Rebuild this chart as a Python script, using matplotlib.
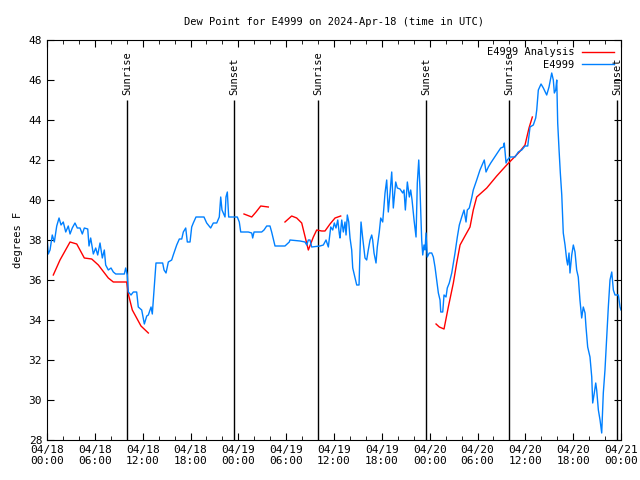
import numpy as np
import pandas as pd
import matplotlib
matplotlib.use('Agg')
import matplotlib.pyplot as plt
import matplotlib.dates as mdates

# hours since 2024-04-18 00:00 UTC, dew point in degrees F
obs_hours = [0.0, 0.16, 0.38, 0.66, 0.92, 1.22, 1.51, 1.76, 2.04, 2.35, 2.67, 2.89, 3.17, 3.51, 3.80, 4.14,
             4.43, 4.68, 5.11, 5.27, 5.48, 5.81, 6.11, 6.36, 6.65, 6.94, 7.19, 7.36, 7.69, 8.03, 8.32, 8.62,
             9.70, 9.87, 10.07, 10.20, 10.54, 10.83, 11.25, 11.45, 11.88, 12.21, 12.51, 12.71, 13.05, 13.21,
             13.46, 13.67, 14.51, 14.68, 14.93, 15.22, 15.64, 15.84, 16.06, 16.27, 16.60, 16.90, 17.10, 17.40,
             17.60, 17.94, 18.15, 18.35, 18.69, 19.69, 20.03, 20.53, 20.86, 21.29, 21.61, 21.79, 21.95, 22.33,
             22.45, 22.62, 22.79, 23.87, 24.12, 24.30, 25.25, 25.68, 25.80, 25.97, 26.93, 27.22, 27.56, 27.97,
             28.18, 28.60, 29.85, 30.39, 30.48, 31.74, 32.36, 32.58, 32.78, 32.99, 33.20, 34.24, 34.66, 35.00,
             35.29, 35.59, 35.84, 36.04, 36.25, 36.47, 36.67, 36.75, 36.97, 37.17, 37.38, 37.51, 37.67, 37.85,
             38.01, 38.22, 38.35, 38.64, 38.85, 39.14, 39.26, 39.39, 39.60, 39.89, 40.10, 40.30, 40.52, 40.73,
             40.85, 41.02, 41.27, 41.43, 41.68, 41.86, 42.11, 42.40, 42.61, 42.81, 43.03, 43.24, 43.44, 43.74,
             43.94, 44.28, 44.62, 44.78, 44.95, 45.20, 45.45, 45.62, 45.79, 46.04, 46.29, 46.45, 46.63, 46.79,
             47.00, 47.13, 47.29, 47.42, 47.54, 47.70, 47.95, 48.26, 48.46, 48.67, 48.88, 49.09, 49.30, 49.39,
             49.64, 49.80, 50.05, 50.21, 50.46, 50.77, 50.97, 51.18, 51.47, 51.72, 52.02, 52.31, 52.56, 52.72,
             52.97, 53.27, 53.47, 53.90, 54.31, 54.73, 54.85, 55.07, 55.36, 55.66, 56.07, 56.49, 56.91, 57.24,
             57.36, 57.58, 57.74, 58.08, 58.71, 59.12, 59.55, 59.96, 60.30, 60.59, 61.00, 61.30, 61.43, 61.63,
             61.97, 62.26, 62.68, 62.97, 63.31, 63.51, 63.64, 63.81, 63.94, 64.06, 64.23, 64.39, 64.57, 64.76,
             64.98, 65.19, 65.31, 65.48, 65.60, 65.82, 66.02, 66.23, 66.44, 66.64, 66.85, 67.07, 67.27, 67.49,
             67.61, 67.82, 68.11, 68.33, 68.45, 68.65, 68.83, 68.95, 69.16, 69.37, 69.58, 69.78, 69.99, 70.21,
             70.41, 70.62, 70.84, 71.04, 71.25, 71.67, 71.88, 72.0]
obs_dewpt = [38.2, 37.3, 37.5, 38.25, 37.9, 38.7, 39.1, 38.75, 38.9, 38.4, 38.7, 38.3, 38.6, 38.85, 38.6, 38.6,
             38.3, 38.6, 38.55, 37.7, 38.1, 37.3, 37.6, 37.25, 37.85, 37.1, 37.5, 36.75, 36.5, 36.6, 36.4, 36.3,
             36.3, 36.6, 36.25, 35.4, 35.25, 35.4, 35.4, 34.65, 34.5, 33.8, 34.2, 34.25, 34.65, 34.3,
             35.65, 36.85, 36.85, 36.5, 36.35, 36.9, 37.0, 37.25, 37.5, 37.75, 38.05, 38.05, 38.4, 38.6,
             37.9, 37.9, 38.65, 38.85, 39.15, 39.15, 38.85, 38.6, 38.85, 38.85, 39.15, 40.15, 39.5, 39.15,
             40.15, 40.4, 39.15, 39.15, 38.9, 38.4, 38.4, 38.35, 38.1, 38.4, 38.4, 38.5, 38.7, 38.7,
             38.4, 37.7, 37.7, 37.9, 38.0, 37.95, 37.9, 37.75, 38.0, 38.0, 37.65, 37.7, 37.75, 38.0,
             37.65, 38.65, 38.5, 38.85, 38.6, 39.0, 38.3, 38.1, 39.0, 38.4, 38.9, 38.25, 39.25, 38.9,
             38.1, 37.5, 36.6, 36.1, 35.75, 35.75, 37.4, 38.9, 38.1, 37.1, 37.0, 37.5, 38.0, 38.25,
             38.0, 37.35, 36.85, 37.65, 38.4, 39.1, 38.9, 40.35, 41.0, 39.4, 40.35, 41.4, 39.6, 40.9,
             40.6, 40.55, 40.35, 40.5, 39.5, 40.9, 40.15, 40.5, 40.0, 39.0, 38.15, 40.85, 42.0, 40.5,
             38.0, 37.25, 37.75, 37.5, 38.35, 37.15, 37.35, 37.35, 37.15, 36.65, 36.0, 35.35, 35.0, 34.4,
             34.4, 35.25, 35.15, 35.6, 35.85, 36.35, 36.85, 37.35, 38.15, 38.75, 39.15, 39.5, 38.9, 39.5,
             39.6, 40.1, 40.5, 41.0, 41.5, 41.9, 42.0, 41.4, 41.65, 41.85, 42.1, 42.35, 42.6, 42.65,
             42.85, 41.85, 42.0, 42.15, 42.15, 42.4, 42.5, 42.7, 42.7, 43.65, 43.75, 44.1, 44.5, 45.5,
             45.8, 45.6, 45.25, 45.65, 46.35, 46.0, 45.35, 45.5, 46.0, 43.85, 42.5, 41.35, 40.25, 38.35,
             37.75, 37.0, 36.75, 37.35, 36.35, 37.25, 37.75, 37.4, 36.5, 36.15, 35.0, 34.1, 34.65, 34.35,
             33.65, 32.65, 32.15, 31.15, 29.85, 30.35, 30.85, 30.5, 29.5, 29.0, 28.35, 30.35, 31.5, 33.15,
             34.65, 36.0, 36.4, 35.5, 35.25, 35.25, 34.65, 34.5]

# analysis series, NaN marks gaps between segments
ana_hours = [0.79, 1.63, 2.89, 3.73, 4.68, 5.61, 6.44, 7.69, 8.32, 10.0, 10.2, 10.7, 11.79, 12.71, 12.8,
             24.71, 25.68, 26.22, 26.81, 27.76, 27.8,
             29.85, 30.69, 31.32, 31.95, 32.78, 33.41, 33.83, 34.46, 34.87, 35.50, 36.13, 36.84, 36.9,
             48.8, 49.21, 49.80, 50.34, 50.97, 51.39, 51.81, 52.43, 53.06, 53.47, 53.90, 55.16, 56.41,
             57.66, 59.25, 59.96, 60.46, 60.88]
ana_dewpt = [36.25, 37.0, 37.9, 37.8, 37.1, 37.05, 36.75, 36.1, 35.9, 35.9, 35.3, 34.5, 33.7, 33.35, np.nan,
             39.3, 39.15, 39.4, 39.7, 39.65, np.nan,
             38.9, 39.2, 39.1, 38.85, 37.5, 38.15, 38.5, 38.45, 38.45, 38.8, 39.1, 39.2, np.nan,
             33.8, 33.65, 33.55, 34.65, 35.85, 36.85, 37.75, 38.2, 38.65, 39.5, 40.15, 40.6, 41.2,
             41.75, 42.4, 42.75, 43.6, 44.15]

sun_hours = [10.04, 23.46, 34.0, 47.55, 58.0, 71.5]
sun_labels = ['Sunrise', 'Sunset', 'Sunrise', 'Sunset', 'Sunrise', 'Sunset']

start = pd.Timestamp('2024-04-18 00:00')
obs_t = start + pd.to_timedelta(obs_hours, unit='h')
ana_t = start + pd.to_timedelta(ana_hours, unit='h')
sun_t = start + pd.to_timedelta(sun_hours, unit='h')

plt.rcParams['font.family'] = 'DejaVu Sans Mono'
plt.rcParams['font.size'] = 7.5

fig = plt.figure(figsize=(6.4, 4.8), dpi=100)
ax = fig.add_axes([47 / 640, 40 / 480, 574 / 640, 400 / 480])

for t, lab in zip(sun_t, sun_labels):
    ax.vlines(t, 28, 45, color='black', lw=1)
    ax.text(t, 45.25, lab, rotation=90, ha='center', va='bottom')

ax.plot(ana_t, ana_dewpt, color='#ff0000', lw=1, label='E4999 Analysis')
ax.plot(obs_t, obs_dewpt, color='#0080ff', lw=1, label='E4999')

ax.set_xlim(start, start + pd.Timedelta(hours=72))
ax.set_ylim(28, 48)
ax.set_yticks(np.arange(28, 49, 2))
ax.xaxis.set_major_locator(mdates.HourLocator(byhour=[0, 6, 12, 18]))
ax.xaxis.set_minor_locator(mdates.HourLocator(interval=2))
ax.xaxis.set_major_formatter(mdates.DateFormatter('%m/%d\n%H:%M'))
ax.tick_params(which='both', direction='in', top=True, right=True)
ax.tick_params(which='major', length=5)
ax.tick_params(which='minor', length=3)
ax.tick_params(axis='x', labelsize=8)
ax.tick_params(axis='y', labelsize=8)

ax.set_title('Dew Point for E4999 on 2024-Apr-18 (time in UTC)', fontsize=7.5, pad=11)
ax.set_ylabel('degrees F')
ax.legend(loc='upper right', frameon=False, markerfirst=False, handlelength=3.0,
          borderaxespad=0.3, labelspacing=0.25, fontsize=7.5)

fig.savefig('out.png', dpi=100)
